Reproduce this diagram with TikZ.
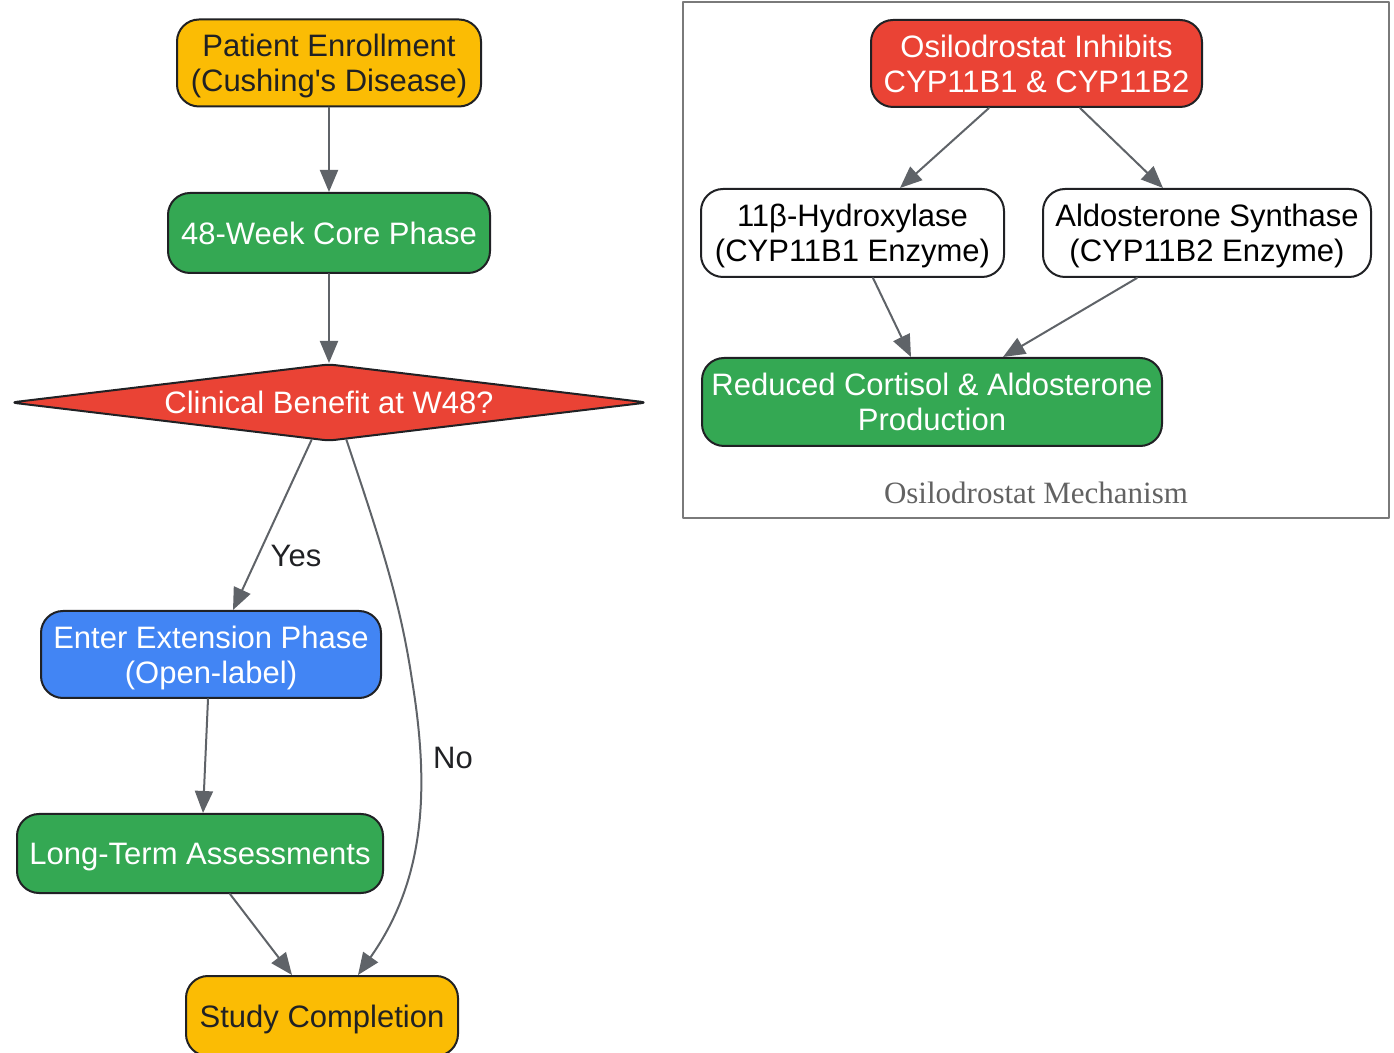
\documentclass[tikz,border=0pt]{standalone}
\usepackage{fontspec}
\setmainfont{Liberation Sans}[Ligatures=TeXOff]
\newfontfamily\clusterfont{Liberation Serif}
\usepackage{tikz}
\usetikzlibrary{shapes.geometric}
\usetikzlibrary{arrows.meta}
\definecolor{gyellow}{HTML}{FBBC04}
\definecolor{ggreen}{HTML}{34A853}
\definecolor{gred}{HTML}{EA4335}
\definecolor{gblue}{HTML}{4285F4}
\definecolor{ink}{HTML}{202124}
\definecolor{edgegray}{HTML}{5F6368}
\definecolor{framegray}{HTML}{7A7A7A}

\begin{document}
\begin{tikzpicture}[x=0.5pt, y=-0.5pt, line cap=round, line join=round,
  >={Triangle[length=11pt,width=9pt]},
  box/.style={draw=ink, line width=1pt, rounded corners=11pt, align=center,
    inner sep=0pt, text depth=0pt, font=\fontsize{15.5}{17.5}\selectfont},
  yellowbox/.style={box, fill=gyellow, text=ink},
  greenbox/.style={box, fill=ggreen, text=white},
  redbox/.style={box, fill=gred, text=white},
  bluebox/.style={box, fill=gblue, text=white},
  whitebox/.style={box, fill=white, text=black},
  decision/.style={diamond, draw=ink, line width=1pt, fill=gred, text=white,
    aspect=8, inner sep=0pt, rounded corners=3pt, text depth=0pt,
    font=\fontsize{15.5}{17.5}\selectfont},
  flow/.style={->, draw=edgegray, line width=1pt},
  edgelabel/.style={text=ink, font=\fontsize{15.5}{17.5}\selectfont}]
  \useasboundingbox (0,0) rectangle (1394,1053);

  \draw[framegray, line width=1pt] (683,2) rectangle (1389,518);
  \node[text=framegray!80!black, font=\clusterfont\fontsize{15.5}{17.5}\selectfont]
    (mechlabel) at (1036,493) {Osilodrostat Mechanism};

  \node[yellowbox, minimum width=152pt, minimum height=43.5pt] (enroll) at (329,63)
    {Patient Enrollment\\(Cushing's Disease)};
  \node[greenbox, minimum width=161pt, minimum height=40pt] (core) at (329,233)
    {48-Week Core Phase};
  \node[decision, minimum width=318.5pt, minimum height=38.5pt] (benefit) at (329,402.5)
    {Clinical Benefit at W48?};
  \node[bluebox, minimum width=170pt, minimum height=43.5pt] (extension) at (211,654.5)
    {Enter Extension Phase\\(Open-label)};
  \node[greenbox, minimum width=183pt, minimum height=39.5pt] (longterm) at (200,853.5)
    {Long-Term Assessments};
  \node[yellowbox, minimum width=136pt, minimum height=40pt] (completion) at (322,1016)
    {Study Completion};

  \node[redbox, minimum width=165.5pt, minimum height=43.5pt] (inhibit) at (1036.5,63.5)
    {Osilodrostat Inhibits\\CYP11B1 \& CYP11B2};
  \node[whitebox, minimum width=151.5pt, minimum height=44pt] (hydroxylase) at (852.5,233)
    {11β-Hydroxylase\\(CYP11B1 Enzyme)};
  \node[whitebox, minimum width=164pt, minimum height=44pt] (synthase) at (1207,233)
    {Aldosterone Synthase\\(CYP11B2 Enzyme)};
  \node[greenbox, minimum width=230pt, minimum height=44pt] (reduced) at (932,402)
    {Reduced Cortisol \& Aldosterone\\Production};

  \draw[flow] (enroll.south) -- (core.north);
  \draw[flow] (core.south) -- (benefit.north);
  \draw[flow] (benefit.-115) -- ([xshift=11pt]extension.north);
  \draw[flow] ([xshift=-1.5pt]extension.south) -- ([xshift=1.5pt]longterm.north);
  \draw[flow] ([xshift=15pt]longterm.south) -- ([xshift=-15pt]completion.north);
  \draw[flow] (benefit.-65) .. controls (380,540) and (400,600) .. (412,680)
    .. controls (430,790) and (425,880) .. ([xshift=18pt]completion.north);
  \node[edgelabel] (yes) at (296,556) {Yes};
  \node[edgelabel] (no) at (453,758) {No};

  \draw[flow] ([xshift=-23.75pt]inhibit.south) -- ([xshift=23.75pt]hydroxylase.north);
  \draw[flow] ([xshift=21.75pt]inhibit.south) -- ([xshift=-22pt]synthase.north);
  \draw[flow] ([xshift=10.25pt]hydroxylase.south) -- ([xshift=-10.5pt]reduced.north);
  \draw[flow] ([xshift=-35pt]synthase.south) -- ([xshift=35.5pt]reduced.north);
\end{tikzpicture}
\end{document}
